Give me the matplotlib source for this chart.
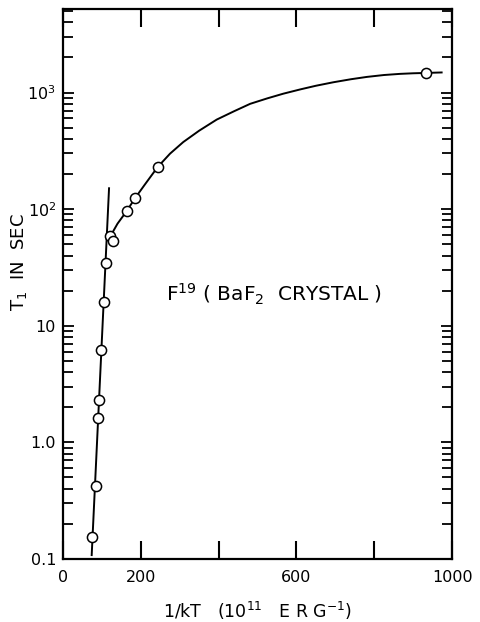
import numpy as np
import matplotlib
matplotlib.use('Agg')
import matplotlib.pyplot as plt
from matplotlib.ticker import FixedLocator, FixedFormatter, LogLocator, NullFormatter

## measured points: 1/kT (10^11 erg^-1) vs T1 (sec)
x_pts  = [75, 84, 91, 93, 98, 106, 111, 121, 128, 164, 185, 243, 932]
t1_pts = [0.153, 0.425, 1.63, 2.30, 6.2, 16.1, 34.7, 58.5, 53.7, 96.6, 124, 229, 1465]

## steep straight line (low temperature side)
x_steep  = [73.7, 118.3]
t1_steep = [0.108, 151]

## smooth curve through the slow part
x_curve  = [121, 140, 164, 185, 210, 243, 275, 309, 350, 395, 440, 481, 525,
            566, 610, 650, 695, 740, 781, 825, 866, 900, 932, 973]
t1_curve = [58, 75, 96.6, 124, 162, 229, 299, 376, 471, 586, 692, 800, 891,
            977, 1064, 1143, 1225, 1300, 1361, 1413, 1445, 1462, 1472, 1486]

xticks      = [0, 200, 400, 600, 800, 1000]
xticklabels = ['0', '200', '', '600', '', '1000']
yticks      = [0.1, 1, 10, 100, 1000]
yticklabels = ['0.1', '1.0', '10', '10$^2$', '10$^3$']

fig = plt.figure(figsize=(4.81, 6.22), dpi=100)
ax = fig.add_axes([0.131, 0.1013, 0.809, 0.8842])

ax.plot(x_steep, t1_steep, color='black', lw=1.4)
ax.plot(x_curve, t1_curve, color='black', lw=1.4)
ax.plot(x_pts, t1_pts, 'o', mfc='white', mec='black', mew=1.1, ms=7.3, zorder=3)

ax.set_yscale('log')
ax.set_xlim(0, 1000)
ax.set_ylim(0.1, 5200)

ax.xaxis.set_major_locator(FixedLocator(xticks))
ax.xaxis.set_major_formatter(FixedFormatter(xticklabels))
ax.yaxis.set_major_locator(FixedLocator(yticks))
ax.yaxis.set_major_formatter(FixedFormatter(yticklabels))
ax.yaxis.set_minor_locator(LogLocator(base=10, subs=np.arange(2, 10)))
ax.yaxis.set_minor_formatter(NullFormatter())

ax.tick_params(axis='x', which='major', direction='in', top=True, bottom=True,
               length=13, width=1.5, pad=8, labelsize=11.5)
ax.tick_params(axis='y', which='major', direction='in', left=True, right=True,
               length=8, width=1.3, pad=5, labelsize=11.5)
ax.tick_params(axis='y', which='minor', direction='in', left=True, right=True,
               length=7, width=1.3)
for s in ax.spines.values():
    s.set_linewidth(1.6)

ax.set_xlabel('1/kT   (10$^{11}$   E R G$^{-1}$)', fontsize=12.5, labelpad=11)
ax.set_ylabel('T$_1$  IN  SEC', fontsize=13)
ax.yaxis.set_label_coords(-0.088, 0.54)

ax.text(265, 18.5, 'F$^{19}$ ( BaF$_2$  CRYSTAL )', fontsize=14.5, ha='left', va='center')

fig.savefig('out.png', dpi=100)
